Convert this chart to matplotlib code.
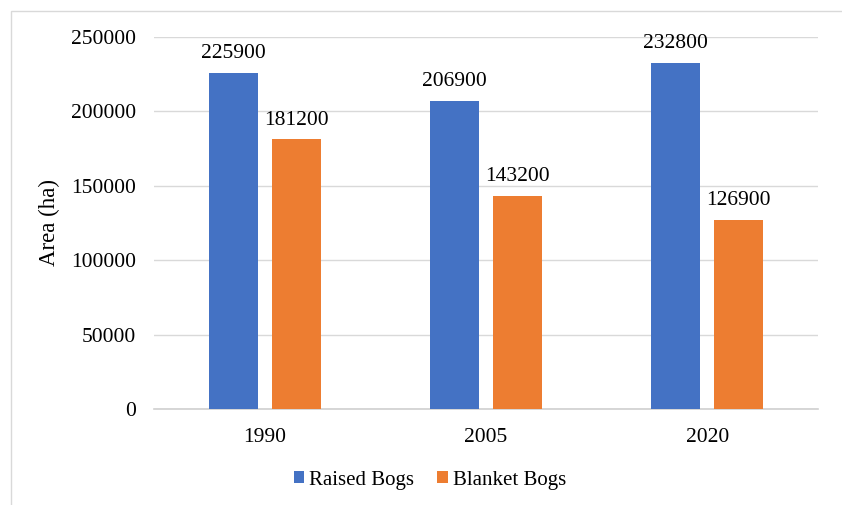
import numpy as np
import matplotlib.pyplot as plt
from matplotlib.patches import Rectangle

years = ['1990', '2005', '2020']
raised = [225900, 206900, 232800]
blanket = [181200, 143200, 126900]

plt.rcParams['font.family'] = ['Liberation Serif', 'DejaVu Serif']

fig = plt.figure(figsize=(8.42, 5.05), dpi=100)
ax = fig.add_axes([154 / 842, 1 - 409 / 505, (818 - 154) / 842, (409 - 37) / 505])

x = np.arange(len(years))
w = 0.222
off = 0.142
b1 = ax.bar(x - off, raised, w, color='#4472C4', label='Raised Bogs', zorder=3)
b2 = ax.bar(x + off, blanket, w, color='#ED7D31', label='Blanket Bogs', zorder=3)

for bars, vals in [(b1, raised), (b2, blanket)]:
    for b, v in zip(bars, vals):
        ax.annotate(str(v), (b.get_x() + b.get_width() / 2, v), xytext=(0, 7),
                    textcoords='offset points', ha='center', va='bottom', fontsize=15.5)

ax.set_xlim(-0.5, 2.5)
ax.set_ylim(0, 250000)
ax.set_yticks(range(0, 250001, 50000))
ax.set_xticks(x)
ax.set_xticklabels(years)
ax.tick_params(axis='both', length=0, labelsize=15.5, colors='black')
ax.tick_params(axis='y', pad=13)
ax.tick_params(axis='x', pad=14)
ax.yaxis.grid(True, color='#d9d9d9', linewidth=1, zorder=0)
for s in ['top', 'right', 'left']:
    ax.spines[s].set_visible(False)
ax.spines['bottom'].set_color('#d0d0d0')
ax.spines['bottom'].set_linewidth(1.2)
ax.set_ylabel('Area (ha)', fontsize=16.5, labelpad=8)

fig.legend(loc='center', bbox_to_anchor=(430 / 842, 1 - 480 / 505), ncol=2, frameon=False,
           fontsize=15, handlelength=0.5, handleheight=0.5, handletextpad=0.25,
           columnspacing=1.1)

fig.patches.append(Rectangle((11 / 842, -0.1), 1.1, 1 - 11 / 505 + 0.1, transform=fig.transFigure,
                             fill=False, edgecolor='#d9d9d9', linewidth=1))

fig.savefig('out.png', dpi=100)
